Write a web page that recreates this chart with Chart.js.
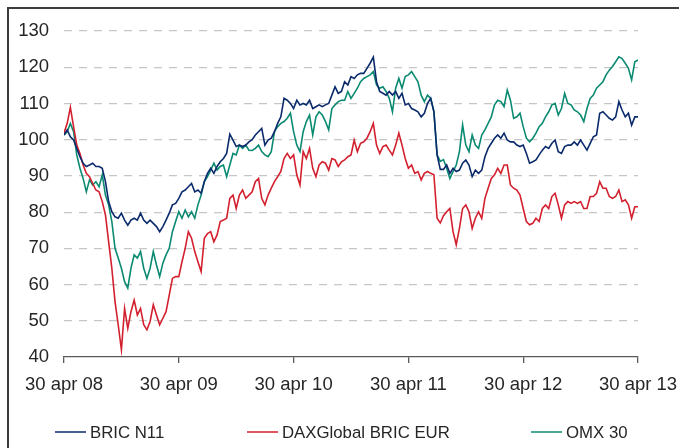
<!DOCTYPE html>
<html>
<head>
<meta charset="utf-8">
<script src="https://cdn.jsdelivr.net/npm/chart.js@4.4.1/dist/chart.umd.min.js"></script>
<style>
  html, body { margin: 0; padding: 0; background: #fff; }
  #wrap { position: relative; width: 679px; height: 448px; overflow: hidden; }
  #frame { position: absolute; left: 7px; top: 7px; width: 720px; height: 480px;
           border-top: 2px solid #3c3c3c; border-left: 2px solid #3c3c3c; }
  #myChart { position: absolute; left: 0; top: 0; }
</style>
</head>
<body>
<div id="wrap">
  <div id="frame"></div>
  <canvas id="myChart" width="679" height="448"></canvas>
</div>
<script>
// readings about every 10 days, 30 apr 08 -> 30 apr 13
const tickLabels = ['30 apr 08', '30 apr 09', '30 apr 10', '30 apr 11', '30 apr 12', '30 apr 13'];
const seriesNames = ['BRIC N11', 'DAXGlobal BRIC EUR', 'OMX 30'];
const seriesColors = ['#0a2a6c', '#d3202f', '#0b8a72'];
const yTicks = [40, 50, 60, 70, 80, 90, 100, 110, 120, 130];
const stepsPerYear = 36;

const bricN11 = [
  101.3, 102.7, 100.8, 99.9, 97.6, 95.3, 93.5, 92.6, 93.0, 93.5,
  92.6, 92.6, 92.1, 88.4, 82.9, 80.1, 78.7, 78.3, 79.7, 77.8,
  76.4, 77.8, 78.3, 77.8, 79.7, 77.8, 76.9, 77.8, 76.9, 76.0,
  74.6, 76.0, 77.8, 79.7, 82.0, 82.4, 83.8, 85.6, 86.1, 87.0,
  87.9, 85.6, 86.1, 85.2, 88.4, 90.7, 92.1, 90.7, 92.6, 93.9,
  94.8, 96.2, 101.5, 99.9, 98.1, 98.5, 98.1, 98.5, 99.4, 100.0,
  101.3, 102.2, 103.1, 98.5, 99.9, 100.4, 102.2, 104.5, 106.3, 111.4,
  110.9, 110.0, 108.6, 110.9, 109.6, 110.0, 109.6, 110.9, 108.6, 109.1,
  109.6, 109.1, 109.6, 110.0, 112.3, 114.6, 112.8, 113.3, 116.0, 115.1,
  117.4, 116.9, 117.9, 118.3, 118.3, 119.7, 121.1, 122.8, 116.0, 113.3,
  112.8, 112.3, 113.3, 112.3, 113.3, 111.4, 112.8, 109.6, 110.0, 108.6,
  108.2, 107.7, 106.3, 107.3, 110.0, 111.4, 107.7, 95.8, 91.8, 91.8,
  93.0, 90.7, 92.1, 91.2, 91.6, 93.5, 94.4, 93.0, 89.8, 91.6,
  90.7, 91.6, 95.3, 97.6, 99.0, 100.4, 101.3, 100.4, 101.8, 99.9,
  99.4, 99.4, 98.5, 98.1, 98.5, 96.2, 93.5, 93.9, 94.4, 95.8,
  97.1, 98.1, 97.6, 99.0, 99.9, 96.7, 96.2, 98.1, 98.5, 98.5,
  99.4, 98.5, 99.9, 98.5, 97.1, 99.0, 100.8, 101.3, 107.3, 107.7,
  106.8, 105.9, 105.4, 106.3, 110.5, 108.2, 106.3, 107.3, 104.0, 106.3,
  106.3
];

const daxBric = [
  101.8, 104.5, 108.9, 103.6, 98.5, 96.2, 93.0, 90.7, 89.8, 87.9,
  86.1, 85.6, 82.9, 79.2, 71.8, 64.5, 55.3, 48.9, 42.0, 53.4,
  47.9, 52.5, 55.7, 51.6, 53.4, 48.9, 47.5, 49.8, 54.4, 51.6,
  48.9, 50.7, 52.5, 57.1, 61.7, 62.2, 62.2, 66.3, 70.0, 74.6,
  72.8, 69.1, 66.3, 63.6, 72.8, 74.1, 74.6, 71.8, 73.7, 77.4,
  77.8, 78.3, 83.8, 84.7, 81.0, 84.7, 86.1, 83.8, 84.7, 85.6,
  88.4, 89.3, 83.8, 82.0, 84.7, 86.6, 88.4, 89.8, 91.2, 94.8,
  96.2, 94.8, 95.8, 90.3, 87.5, 96.7, 94.8, 97.6, 92.1, 89.8,
  93.0, 93.9, 93.5, 91.6, 94.8, 94.4, 92.6, 93.9, 94.4, 95.3,
  95.8, 99.9, 96.7, 99.0, 99.4, 100.4, 102.2, 104.5, 98.5, 96.2,
  98.1, 98.5, 97.1, 95.8, 98.5, 101.8, 98.5, 94.8, 92.1, 93.0,
  90.7, 91.2, 88.9, 90.7, 91.2, 90.7, 90.3, 78.3, 77.0, 79.0,
  80.1, 81.0, 74.6, 71.0, 75.5, 81.0, 82.0, 80.1, 75.5, 78.3,
  80.1, 78.3, 83.8, 86.6, 89.3, 90.3, 92.1, 90.7, 93.0, 93.0,
  87.5, 86.6, 86.1, 84.7, 81.0, 77.4, 76.5, 76.9, 78.3, 77.4,
  81.0, 82.0, 81.0, 84.3, 85.2, 82.0, 78.3, 82.0, 82.9, 82.4,
  82.9, 82.4, 82.9, 81.0, 81.0, 84.3, 84.3, 85.2, 88.4, 86.6,
  86.6, 84.3, 83.8, 84.3, 86.1, 82.9, 83.4, 82.0, 78.3, 81.5,
  81.5
];

const omx30 = [
  101.3, 102.2, 104.5, 102.2, 95.8, 92.1, 89.3, 85.6, 88.9, 87.5,
  88.4, 87.0, 90.3, 84.7, 82.0, 77.4, 70.0, 67.3, 64.5, 60.8,
  59.0, 64.5, 68.2, 67.3, 69.1, 64.5, 61.7, 64.5, 69.1, 65.4,
  62.2, 65.9, 68.2, 70.0, 74.6, 77.4, 80.1, 78.3, 80.6, 78.7,
  80.1, 78.3, 82.0, 84.7, 88.4, 89.8, 91.6, 93.5, 91.6, 92.6,
  93.0, 89.8, 93.0, 96.2, 95.8, 98.5, 97.6, 98.5, 97.1, 97.0,
  97.6, 98.5, 96.7, 95.8, 95.3, 96.7, 102.2, 103.6, 104.5, 105.0,
  105.9, 107.3, 102.2, 98.5, 96.7, 102.2, 105.0, 106.8, 101.3, 106.3,
  107.7, 106.8, 105.0, 102.7, 108.6, 109.6, 110.5, 110.9, 110.9, 113.3,
  111.4, 112.8, 114.2, 116.0, 116.9, 117.4, 117.9, 118.8, 115.1, 114.2,
  114.6, 113.3, 111.4, 107.7, 114.2, 116.9, 114.2, 117.4, 117.9, 118.8,
  117.4, 116.0, 112.3, 110.5, 112.3, 111.4, 107.7, 95.8, 94.0, 94.5,
  92.1, 89.3, 91.2, 93.0, 96.7, 104.1, 98.5, 96.7, 101.3, 98.5,
  97.6, 101.3, 102.7, 104.5, 106.3, 109.6, 110.9, 110.5, 109.1, 113.7,
  110.9, 105.9, 106.3, 107.3, 103.6, 100.4, 99.4, 100.4, 101.8, 103.6,
  104.5, 106.3, 107.7, 109.6, 110.0, 106.8, 108.6, 112.8, 110.0, 109.6,
  108.2, 107.7, 106.8, 105.0, 108.6, 111.4, 112.3, 114.2, 115.1, 116.0,
  117.9, 119.2, 120.2, 121.5, 122.9, 122.4, 121.1, 119.7, 116.5, 121.5,
  122.0
];

const allSeries = [bricN11, daxBric, omx30];
const FONT = '"Liberation Sans", Arial, sans-serif';

Chart.defaults.font.family = FONT;
Chart.defaults.color = '#262626';

// legend drawn by hand so the three items can sit spread across the bottom
const bottomLegend = {
  id: 'bottomLegend',
  afterDraw(chart) {
    const ctx = chart.ctx;
    const xs = [55, 247, 531];
    const y = 432;
    ctx.save();
    ctx.font = '16.8px ' + FONT;
    ctx.textBaseline = 'middle';
    ctx.fillStyle = '#262626';
    chart.data.datasets.forEach((ds, i) => {
      ctx.strokeStyle = ds.borderColor;
      ctx.lineWidth = 1.5;
      ctx.beginPath();
      ctx.moveTo(xs[i], y);
      ctx.lineTo(xs[i] + 31, y);
      ctx.stroke();
      ctx.fillText(ds.label, xs[i] + 35, y + 1);
    });
    ctx.restore();
  }
};

const ctx = document.getElementById('myChart').getContext('2d');

new Chart(ctx, {
  type: 'line',
  data: {
    datasets: allSeries.map((arr, i) => ({
      label: seriesNames[i],
      data: arr.map((v, k) => ({ x: k, y: v })),
      borderColor: seriesColors[i],
      backgroundColor: seriesColors[i],
      borderWidth: 1.6,
      pointRadius: 0,
      tension: 0,
      fill: false
    }))
  },
  options: {
    responsive: false,
    animation: false,
    layout: { padding: { left: 0, right: 41, top: 31, bottom: 51 } },
    plugins: {
      legend: { display: false },
      tooltip: { enabled: false }
    },
    scales: {
      x: {
        type: 'linear',
        min: 0,
        max: stepsPerYear * (tickLabels.length - 1),
        afterBuildTicks: (scale) => {
          scale.ticks = tickLabels.map((t, i) => ({ value: i * stepsPerYear }));
        },
        afterFit: (scale) => {
          scale.height = 40;
          // the end labels already fit inside the layout padding
          scale.paddingLeft = 0;
          scale.paddingRight = 0;
        },
        border: { display: true, color: '#595959', width: 1.3 },
        grid: {
          drawOnChartArea: false,
          drawTicks: true,
          tickLength: 6,
          color: '#595959',
          lineWidth: 1.3
        },
        ticks: {
          autoSkip: false,
          maxRotation: 0,
          padding: 11,
          font: { size: 18.5 },
          callback: (v) => tickLabels[Math.round(v / stepsPerYear)]
        }
      },
      y: {
        min: yTicks[0],
        max: yTicks[yTicks.length - 1],
        afterBuildTicks: (scale) => {
          scale.ticks = yTicks.map(v => ({ value: v }));
        },
        afterFit: (scale) => { scale.width = 64; },
        border: { display: false, dash: [8, 7] },
        grid: {
          drawTicks: false,
          lineWidth: 1.2,
          color: (c) => (c.tick && c.tick.value === yTicks[0]) ? 'rgba(0,0,0,0)' : '#c6c6c6'
        },
        ticks: {
          padding: 15,
          font: { size: 18.5 }
        }
      }
    }
  },
  plugins: [bottomLegend]
});
</script>
</body>
</html>
